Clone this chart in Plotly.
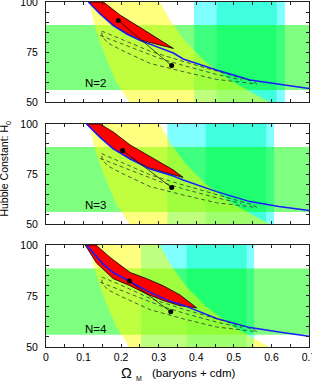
import plotly.graph_objects as go

FONT = "Liberation Sans, Arial, Helvetica, sans-serif"

# ---------------- data ----------------
panel_labels = ["N=2", "N=3", "N=4"]
y_tickvals = [50, 75, 100]

# H0 prior band (green)
h0_band = [56, 88.5]

# cluster constraint bands (cyan) per panel: outer and inner
cyan_outer = [[0.394, 0.636], [0.323, 0.607], [0.253, 0.554]]
cyan_inner = [[0.454, 0.614], [0.425, 0.586], [0.374, 0.534]]

# shape-parameter band (yellow): left / right edges versus H0
yellow_h = [101, 100, 90, 80, 70, 60, 50, 49]
yellow_left = [0.113, 0.115, 0.127, 0.143, 0.164, 0.187, 0.222, 0.227]
yellow_right = [0.300, 0.303, 0.333, 0.372, 0.425, 0.497, 0.595, 0.610]

# red likelihood regions (closed outlines)
red_om = [
    [0.153, 0.197, 0.268, 0.303, 0.339, 0.303, 0.250, 0.215, 0.179, 0.144, 0.113],
    [0.144, 0.179, 0.224, 0.277, 0.312, 0.339, 0.365, 0.339, 0.312, 0.268, 0.224, 0.179, 0.144, 0.108],
    [0.133, 0.170, 0.224, 0.268, 0.312, 0.357, 0.401, 0.357, 0.312, 0.268, 0.224, 0.179, 0.135, 0.104],
]
red_h = [
    [100, 93.5, 85.2, 81.0, 76.8, 78.5, 81.0, 84.3, 88.5, 94.3, 100],
    [100, 96.0, 89.5, 83.7, 80.3, 77.0, 73.3, 74.5, 76.0, 78.5, 82.7, 87.7, 93.5, 100],
    [100, 94.0, 86.5, 83.5, 80.0, 75.5, 69.2, 70.2, 72.8, 76.0, 80.0, 83.5, 91.0, 100],
]

# blue degeneracy line
blue_om = [
    [0.113, 0.144, 0.179, 0.215, 0.250, 0.277, 0.339, 0.365, 0.454, 0.543, 0.620, 0.700],
    [0.108, 0.144, 0.179, 0.224, 0.268, 0.277, 0.339, 0.365, 0.454, 0.543, 0.620, 0.700],
    [0.108, 0.150, 0.179, 0.222, 0.250, 0.277, 0.330, 0.365, 0.454, 0.543, 0.620, 0.700],
]
blue_h = [
    [100, 94.0, 88.2, 84.0, 80.8, 79.0, 74.5, 71.5, 66.0, 61.0, 58.8, 56.8],
    [100, 93.3, 87.5, 82.5, 78.3, 77.5, 74.0, 72.0, 66.2, 61.2, 58.8, 56.7],
    [100, 91.0, 86.5, 82.3, 79.2, 76.8, 72.5, 70.5, 64.0, 59.5, 57.3, 55.3],
]

# dashed confidence contours: outer closed loop, inner line
dash_outer_om = [0.148, 0.200, 0.277, 0.365, 0.454, 0.552, 0.561, 0.500, 0.454, 0.365, 0.277, 0.200, 0.165, 0.150, 0.148]
dash_outer_h = [
    [85.5, 81.5, 75.4, 70.3, 65.5, 60.2, 59.0, 60.2, 61.3, 65.2, 69.3, 76.0, 79.5, 82.5, 85.5],
    [85.2, 81.0, 74.6, 69.5, 64.8, 59.5, 58.3, 59.5, 60.6, 64.5, 68.7, 75.5, 79.0, 82.0, 85.2],
    [84.3, 80.3, 73.8, 68.6, 63.8, 58.6, 57.5, 58.7, 59.8, 63.8, 68.3, 74.8, 78.0, 81.2, 84.3],
]
dash_inner_om = [0.144, 0.200, 0.250, 0.303, 0.365, 0.454, 0.520]
dash_inner_h = [
    [83.3, 79.3, 75.6, 71.8, 68.3, 63.8, 61.0],
    [82.8, 78.8, 75.0, 71.2, 67.6, 63.1, 60.3],
    [81.8, 77.8, 74.1, 70.3, 66.7, 62.2, 59.5],
]

# best-fit points joined by a line
dots_om = [[0.1925, 0.3345], [0.204, 0.3345], [0.222, 0.332]]
dots_h = [[90.7, 68.2], [86.8, 68.2], [82.3, 67.3]]

label_om = 0.132
label_h = [59.7, 59.5, 58.6]

# ---------------- figure ----------------
fig = go.Figure()

y_domains = [[0.7101, 1.0], [0.3565, 0.6464], [0.0, 0.2957]]
x_range = [0, 0.7]
y_range = [50, 100]


def rect(x0, x1, y0, y1):
    return [x0, x1, x1, x0, x0], [y0, y0, y1, y1, y0]


for i in range(3):
    xa = "x" if i == 0 else f"x{i+1}"
    ya = "y" if i == 0 else f"y{i+1}"
    common = dict(xaxis=xa, yaxis=ya, showlegend=False, hoverinfo="skip")

    # cyan bands
    for band, col in ((cyan_outer[i], "rgba(0,255,255,0.5)"),
                      (cyan_inner[i], "rgba(0,255,190,0.5)")):
        rx, ry = rect(band[0], band[1], y_range[0] - 1, y_range[1] + 1)
        fig.add_trace(go.Scatter(x=rx, y=ry, mode="lines", fill="toself",
                                 fillcolor=col, line=dict(width=0), **common))
    # green H0 band
    rx, ry = rect(x_range[0] - 0.01, x_range[1] + 0.01, h0_band[0], h0_band[1])
    fig.add_trace(go.Scatter(x=rx, y=ry, mode="lines", fill="toself",
                             fillcolor="rgba(0,255,0,0.5)",
                             line=dict(width=0), **common))
    # yellow band
    yx = yellow_left + yellow_right[::-1]
    yy = yellow_h + yellow_h[::-1]
    fig.add_trace(go.Scatter(x=yx + [yx[0]], y=yy + [yy[0]], mode="lines", fill="toself",
                             fillcolor="rgba(255,255,0,0.5)",
                             line=dict(width=0), **common))
    # red region
    fig.add_trace(go.Scatter(x=red_om[i] + [red_om[i][0]], y=red_h[i] + [red_h[i][0]],
                             mode="lines", fill="toself", fillcolor="#ff0000",
                             line=dict(color="black", width=0.8), **common))
    # blue line
    fig.add_trace(go.Scatter(x=blue_om[i], y=blue_h[i], mode="lines",
                             line=dict(color="#1a1aff", width=1.5), **common))
    # dashed contours
    fig.add_trace(go.Scatter(x=dash_outer_om, y=dash_outer_h[i], mode="lines",
                             line=dict(color="#333333", width=0.8, dash="4px,3px"), **common))
    fig.add_trace(go.Scatter(x=dash_inner_om, y=dash_inner_h[i], mode="lines",
                             line=dict(color="#333333", width=0.8, dash="4px,3px"), **common))
    # best-fit points
    fig.add_trace(go.Scatter(x=dots_om[i], y=dots_h[i], mode="lines+markers",
                             line=dict(color="black", width=0.7),
                             marker=dict(color="black", size=5), **common))

    fig.add_annotation(x=label_om, y=label_h[i], xref=xa, yref=ya, text=panel_labels[i],
                       xanchor="center", yanchor="middle",
                       showarrow=False, font=dict(family=FONT, size=11.5, color="black"))

axis_common = dict(showline=True, linecolor="#222222", linewidth=1, mirror="ticks",
                   ticks="inside", ticklen=3, tickwidth=1, tickcolor="#222222",
                   showgrid=False, zeroline=False, automargin=False,
                   ticklabeloverflow="allow",
                   tickfont=dict(family=FONT, size=10.5, color="black"))

layout_axes = {}
for i in range(3):
    xk = "xaxis" if i == 0 else f"xaxis{i+1}"
    yk = "yaxis" if i == 0 else f"yaxis{i+1}"
    layout_axes[xk] = dict(axis_common, domain=[0, 1], range=x_range, tick0=0, dtick=0.1,
                           showticklabels=(i == 2),
                           anchor="y" if i == 0 else f"y{i+1}",
                           minor=dict(dtick=0.05, tick0=0, ticks="inside", ticklen=3,
                                      tickcolor="#222222"))
    layout_axes[yk] = dict(axis_common, domain=y_domains[i], range=y_range,
                           tickmode="array", tickvals=y_tickvals,
                           ticklabelstandoff=5,
                           anchor="x" if i == 0 else f"x{i+1}",
                           minor=dict(tick0=50, dtick=5, ticks="inside", ticklen=3,
                                      tickcolor="#222222"))

fig.update_layout(
    width=312, height=381,
    margin=dict(l=46, r=3, t=2, b=34, autoexpand=False),
    paper_bgcolor="white", plot_bgcolor="white",
    font=dict(family=FONT, size=10.5, color="black"),
    **layout_axes,
)

# x-axis title pieces
fig.add_annotation(xref="paper", yref="paper", x=0.3346, y=-0.0754,
                   xanchor="right", yanchor="middle",
                   text="Ω", showarrow=False,
                   font=dict(family=FONT, size=14.5, color="black"))
fig.add_annotation(xref="paper", yref="paper", x=0.336, y=-0.0899,
                   xanchor="left", yanchor="middle",
                   text="M", showarrow=False,
                   font=dict(family=FONT, size=7, color="black"))
fig.add_annotation(xref="paper", yref="paper", x=0.3954, y=-0.0754,
                   xanchor="left", yanchor="middle",
                   text="(baryons + cdm)", showarrow=False,
                   font=dict(family=FONT, size=11.5, color="black"))
# y-axis title
fig.add_annotation(xref="paper", yref="paper", x=-0.156, y=0.517, textangle=-90,
                   xanchor="center", yanchor="middle",
                   text="Hubble Constant: H<sub>0</sub>",
                   showarrow=False, font=dict(family=FONT, size=10.5, color="black"))

fig.write_html("out.html",
               config={"displayModeBar": False},
               post_script="document.body.style.margin='0';document.body.style.padding='0';")
